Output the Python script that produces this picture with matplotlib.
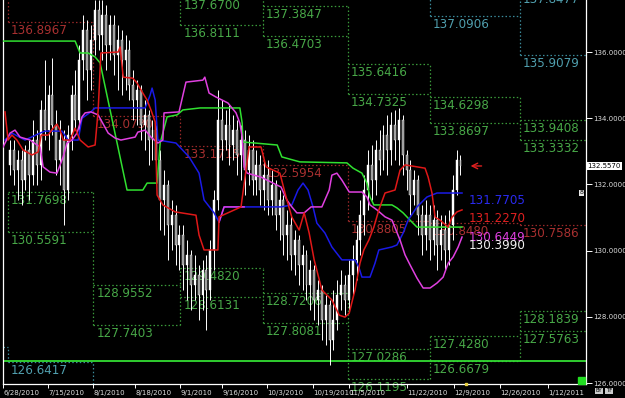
import matplotlib
matplotlib.use('Agg')
import matplotlib.pyplot as plt
import matplotlib.transforms as mtransforms
import numpy as np

# ---------------- data ----------------
opens = [132.59,133.04,132.43,132.74,132.13,133.04,132.28,133.34,132.59,134.25,
         133.64,134.70,133.79,132.74,133.34,131.83,133.49,134.70,133.95,135.76,
         136.66,135.46,136.36,137.27,136.51,137.12,136.21,136.82,135.91,136.36,
         135.76,136.06,135.00,134.55,134.85,133.79,134.10,133.34,133.64,132.74,
         131.53,131.98,130.77,131.07,130.17,130.47,129.57,129.87,128.96,129.26,
         128.66,129.41,128.81,130.02,131.53,133.95,133.34,133.79,133.19,133.64,
         132.89,133.34,132.43,133.04,132.13,132.59,131.83,132.28,131.53,131.98,
         131.07,131.53,130.47,130.77,129.87,130.32,129.57,129.87,128.96,129.41,
         128.51,128.81,127.90,128.36,127.30,127.90,128.66,128.96,128.51,129.26,
         129.72,130.32,131.07,131.83,132.59,132.13,133.04,132.74,133.49,133.04,
         133.79,133.34,133.95,132.89,132.43,131.68,132.13,131.07,130.47,131.07,
         130.32,130.92,130.17,130.62,130.02,130.77,131.83,132.74]
closes = [133.04,132.43,132.74,132.13,133.04,132.28,133.34,132.59,134.25,133.64,
          134.70,133.79,132.74,133.34,131.83,133.49,134.70,133.95,135.76,136.66,
          135.46,136.36,137.27,136.51,137.12,136.21,136.82,135.91,136.36,135.76,
          136.06,135.00,134.55,134.85,133.79,134.10,133.34,133.64,132.74,131.53,
          131.98,130.77,131.07,130.17,130.47,129.57,129.87,128.96,129.26,128.66,
          129.41,128.81,130.02,131.53,133.95,133.34,133.79,133.19,133.64,132.89,
          133.34,132.43,133.04,132.13,132.59,131.83,132.28,131.53,131.98,131.07,
          131.53,130.47,130.77,129.87,130.32,129.57,129.87,128.96,129.41,128.51,
          128.81,127.90,128.36,127.30,127.90,128.66,128.96,128.51,129.26,129.72,
          130.32,131.07,131.83,132.59,132.13,133.04,132.74,133.49,133.04,133.79,
          133.34,133.95,132.89,132.43,131.68,132.13,131.07,130.47,131.07,130.32,
          130.92,130.17,130.62,130.02,130.77,131.83,132.74,132.56]
highs = [133.34,133.34,133.04,133.04,133.19,133.34,133.95,133.64,134.55,135.76,
         135.00,135.82,134.25,133.95,133.64,133.79,135.00,135.46,136.21,137.12,
         136.97,136.82,137.57,137.57,137.57,137.42,137.12,137.12,136.82,136.66,
         136.51,136.36,135.46,135.15,135.00,134.55,134.25,133.95,133.79,133.04,
         132.43,132.13,131.53,131.38,130.77,130.77,130.32,130.02,129.87,129.57,
         129.72,129.87,130.32,131.83,134.85,134.55,134.25,134.40,134.10,133.95,
         133.79,133.64,133.49,133.34,133.04,132.89,132.74,132.74,132.43,132.13,
         131.83,131.68,131.23,131.07,130.62,130.47,130.17,130.02,129.72,129.57,
         129.11,128.96,128.66,128.51,128.81,129.11,129.41,129.26,129.72,130.17,
         130.77,131.53,132.28,133.04,133.19,133.34,133.64,133.79,134.10,134.19,
         134.25,134.31,134.10,133.04,132.74,132.43,132.28,131.38,131.53,131.38,
         131.38,131.23,131.07,131.07,131.23,132.28,133.04,132.89]
lows = [132.28,131.98,131.53,131.38,131.83,131.53,131.98,131.98,132.13,133.34,
        133.04,133.49,132.28,131.98,130.77,131.53,133.04,133.64,133.64,135.15,
        134.55,134.85,135.91,136.06,135.76,135.46,135.76,135.31,134.85,134.70,
        134.85,134.55,133.95,133.79,133.34,133.04,132.59,132.74,132.28,130.62,
        130.47,129.72,130.02,129.57,129.41,128.81,128.51,128.21,128.51,127.90,
        128.21,127.60,128.51,129.41,131.23,132.74,133.04,132.59,132.74,132.28,
        132.13,131.68,131.98,131.68,131.68,131.38,131.23,131.07,131.07,130.62,
        130.32,129.87,129.72,129.41,129.26,128.96,128.81,128.51,128.21,127.90,
        127.75,127.30,127.15,126.54,127.00,127.60,128.21,128.05,128.21,128.66,
        129.11,129.87,130.47,131.23,131.53,131.68,132.28,132.43,132.28,132.59,
        132.74,132.59,132.28,131.83,131.07,131.38,130.47,129.87,130.02,129.72,
        129.87,129.41,129.72,129.41,129.57,130.32,131.68,132.28]

tick_pos = [-1.8, 9.9, 21.6, 32.5, 44.2, 55.1, 66.8, 78.7, 88.1, 103.1, 115.3, 127.3, 139.7]
tick_labels = ['6/28/2010', '7/15/2010', '8/1/2010', '8/18/2010', '9/1/2010', '9/16/2010',
               '10/3/2010', '10/19/2010', '11/5/2010', '11/22/2010', '12/9/2010',
               '12/26/2010', '1/12/2011']
price_ticks = [126, 128, 130, 132, 134, 136]

# indicator lines (vertices: bar position, price)
red_x = [-1.3,-0.5,0.5,1.8,3.4,5.7,7.3,8.1,9.9,11.2,12.2,13.0,13.8,15.6,16.9,18.2,20.3,22.1,22.9,23.6,
         28.1,28.6,29.4,31.9,33.0,34.5,35.6,36.6,37.7,38.2,39.7,42.9,48.3,49.1,50.4,54.0,54.3,60.0,62.1,
         65.2,66.5,70.1,71.7,73.2,75.1,76.4,77.7,79.0,81.0,83.6,85.5,87.0,88.1,89.6,90.9,91.9,93.2,94.5,
         95.8,97.4,100.0,101.3,102.6,107.8,108.6,109.6,110.4,111.7,113.8,114.8,116.1,117.4]
red_y = [134.19,133.34,133.49,133.34,133.04,132.89,132.98,133.49,133.49,133.70,133.82,133.64,133.34,
         133.34,133.70,133.34,133.13,133.19,134.25,135.97,136.00,136.15,135.24,135.21,135.06,134.76,
         134.55,134.25,133.89,131.68,131.38,131.17,131.07,130.47,130.02,130.02,131.02,131.32,133.13,
         133.13,132.53,132.34,131.62,131.01,130.62,131.14,130.53,129.72,128.81,128.51,128.05,127.99,
         128.11,128.81,129.62,130.02,130.32,130.71,131.23,131.74,131.83,132.43,132.59,132.49,132.22,
         131.74,131.01,130.92,130.71,131.01,131.17,131.23]
blue_x = [-1.3,0.5,3.9,7.8,9.1,13.5,15.1,17.7,18.7,21.0,22.1,35.1,36.4,36.9,37.7,38.4,43.1,46.5,49.1,
          50.4,53.0,54.3,55.6,70.4,73.2,74.8,76.1,77.4,78.7,79.7,81.8,83.6,86.2,89.6,90.6,91.4,93.5,
          94.8,95.8,99.2,100.5,102.1,103.4,105.7,108.3,110.9,117.4]
blue_y = [133.34,133.55,133.34,133.55,133.61,133.61,133.34,133.34,134.00,134.19,134.31,134.31,134.70,
          134.91,134.55,133.34,133.25,132.83,132.34,131.53,131.14,130.86,131.32,131.32,131.38,131.83,
          132.04,131.83,131.32,130.83,130.53,130.11,129.72,129.72,129.50,129.20,129.20,129.62,130.02,
          130.11,130.17,130.53,130.92,131.32,131.62,131.74,131.74]
magenta_x = [-1.8,0.0,1.3,2.6,5.2,7.8,8.6,10.4,12.2,13.8,14.8,16.1,17.4,18.7,19.5,21.0,22.9,23.6,25.5,
             27.3,28.8,32.5,33.2,35.1,36.6,38.4,39.7,40.0,43.9,45.7,50.1,50.6,51.7,53.5,56.6,58.7,59.7,
             60.3,60.8,61.6,65.2,67.8,70.4,71.9,73.2,74.5,76.4,78.2,81.0,82.9,83.6,84.9,86.2,88.1,91.4,
             92.7,93.5,95.3,97.4,99.2,101.3,102.6,103.9,105.7,107.3,109.1,110.9,112.5,113.8,115.1,116.4,117.4]
magenta_y = [133.13,133.55,133.64,133.43,133.34,133.13,132.53,132.37,132.34,132.83,133.25,133.34,133.55,
             134.04,134.16,134.19,134.10,133.95,133.55,133.40,133.34,133.43,133.58,133.64,133.43,133.25,
             133.34,134.16,134.19,135.09,135.15,135.24,134.76,134.64,134.46,134.16,133.85,133.43,132.53,
             132.34,132.22,132.07,131.92,131.53,131.32,131.14,131.14,131.32,131.32,131.83,132.28,132.34,
             132.13,131.77,131.77,131.62,131.38,131.23,131.02,130.92,130.32,129.87,129.57,129.17,128.87,
             128.87,129.02,129.20,129.62,129.81,130.11,130.41]
magenta2_x = [54.3, 55.6, 60.8]
magenta2_y = [130.86, 131.32, 131.32]
lime_x = [-1.8,16.9,18.2,20.3,22.1,23.4,30.4,34.5,35.6,38.2,39.0,40.8,43.4,44.9,49.4,59.7,60.3,60.5,
          63.6,69.4,70.6,75.3,87.5,89.1,91.4,92.7,93.5,94.5,99.2,100.5,102.1,103.9,105.7,117.4]
lime_y = [136.33,136.33,135.97,135.97,135.85,135.67,131.83,131.83,132.04,132.04,133.25,134.04,134.10,
          134.25,134.31,134.31,133.85,133.28,133.25,133.19,132.83,132.68,132.65,132.49,132.34,132.04,
          131.62,131.38,131.38,131.29,131.14,130.92,130.71,130.71]

# monthly level boxes (one value per period; None = not shown)
period_edges = [-0.5, 21.6, 44.2, 65.7, 87.8, 109.1, 132.5, 149.6]
green_low_top = [131.7698, 128.9552, 129.4820, 128.7206, 127.0286, 127.4280, 128.1839]
green_low_bot = [130.5591, 127.7403, 128.6131, 127.8081, 126.1195, 126.6679, 127.5763]
green_up_top = [None, None, 137.6700, 137.3847, 135.6416, 134.6298, 133.9408]
green_up_bot = [None, None, 136.8111, 136.4703, 134.7325, 133.8697, 133.3332]
red_level = [136.8967, 134.0730, 133.1715, 132.5954, 130.8805, 130.8480, 130.7586]
red_prev = 138.2
cyan_top = [None, None, None, None, None, 138.4, 137.8477]
cyan_bot = [126.6417, 125.5, None, None, None, 137.0906, 135.9079]
cyan_prev = 127.10
support_level = 126.66

end_labels = [('131.7705', 131.7705, '#2a2af0'), ('131.2270', 131.2270, '#e02020'),
              ('130.6449', 130.6449, '#e040e0'), ('130.3990', 130.3990, '#f0f0f0')]
last_price = 132.5570

# ---------------- style ----------------
BG = 'black'
GREEN_DOT, GREEN_TXT = '#3a9a3a', '#48a848'
RED_DOT, RED_TXT = '#9a2828', '#a83030'
CYAN_DOT, CYAN_TXT = '#3a8a9a', '#509fae'
DOT = (0, (1.2, 1.8))
LABEL_SIZE = 8.6

fig = plt.figure(figsize=(6.25, 3.98), dpi=100, facecolor=BG)
ax = fig.add_axes([3/625, 14/398, 583/625, 384/398], facecolor=BG)
ax.set_xlim(-1.82, 149.6)
ax.set_ylim(125.97, 137.571)

def level_series(vals, color, tcolor, prev=None):
    for k, v in enumerate(vals):
        if v is None:
            continue
        x0, x1 = period_edges[k], period_edges[k + 1]
        ax.plot([x0, x1], [v, v], ls=DOT, color=color, lw=0.9, zorder=1)
        if v < 138:
            ax.annotate(f'{v:.4f}', xy=(x0, v), xytext=(3, -2), textcoords='offset pixels',
                        ha='left', va='top', fontsize=LABEL_SIZE, color=tcolor, zorder=1,
                        annotation_clip=False)
    if prev is not None and vals[0] is not None:
        e = period_edges[0]
        ax.plot([ax.get_xlim()[0], e], [prev, prev], ls=DOT, color=color, lw=0.9, zorder=1)

def edges(series_list, color, prevs=()):
    for k in range(len(period_edges) - 1):
        e = period_edges[k]
        vs = []
        for s in series_list:
            if s[k] is not None:
                vs.append(s[k])
            if k > 0 and s[k - 1] is not None:
                vs.append(s[k - 1])
        if k == 0:
            vs += list(prevs)
        if len(vs) >= 2:
            ax.plot([e, e], [min(vs), max(vs)], ls=DOT, color=color, lw=0.9, zorder=1)

level_series(green_low_top, GREEN_DOT, GREEN_TXT)
level_series(green_low_bot, GREEN_DOT, GREEN_TXT)
edges([green_low_top, green_low_bot], GREEN_DOT)
level_series(green_up_top, GREEN_DOT, GREEN_TXT)
level_series(green_up_bot, GREEN_DOT, GREEN_TXT)
edges([green_up_top, green_up_bot], GREEN_DOT)
level_series(red_level, RED_DOT, RED_TXT, prev=red_prev)
edges([red_level], RED_DOT, prevs=(red_prev,))
level_series(cyan_top, CYAN_DOT, CYAN_TXT)
level_series(cyan_bot, CYAN_DOT, CYAN_TXT, prev=cyan_prev)
edges([cyan_top, cyan_bot], CYAN_DOT, prevs=(cyan_prev,))

ax.axhline(support_level, color='#33dd33', lw=1.3, zorder=2)

# candles
xs = np.arange(len(closes))
for x, o, h, l, c in zip(xs, opens, highs, lows, closes):
    ax.plot([x, x], [l, h], color='white', lw=0.7, zorder=3, solid_capstyle='butt')
    up = c >= o
    ax.bar(x, abs(c - o), bottom=min(o, c), width=0.5,
           color='white' if up else '#8a8a8a', edgecolor='white', linewidth=0.3, zorder=3)

# indicator lines
ax.plot(lime_x, lime_y, color='#30e030', lw=1.1, zorder=4)
ax.plot(blue_x, blue_y, color='#1a1ae6', lw=1.1, zorder=4)
ax.plot(magenta_x, magenta_y, color='#e040e0', lw=1.1, zorder=4)
ax.plot(magenta2_x, magenta2_y, color='#e040e0', lw=1.1, zorder=4)
ax.plot(red_x, red_y, color='#e01818', lw=1.1, zorder=4)

for txt, v, col in end_labels:
    ax.annotate(txt, xy=(119.0, v), xytext=(0, -2), textcoords='offset pixels',
                ha='left', va='top', fontsize=LABEL_SIZE, color=col, zorder=5)

# arrow at last price
ax.annotate('', xy=(len(closes) + 0.9, last_price), xytext=(len(closes) + 5.2, last_price),
            arrowprops=dict(arrowstyle='->', color='#e02020', lw=1.0), zorder=5)

# axes styling
ax.spines['top'].set_visible(False)
for s in ['left', 'right', 'bottom']:
    ax.spines[s].set_color('white')
    ax.spines[s].set_linewidth(0.9)
ax.yaxis.tick_right()
ax.set_yticks(price_ticks)
ax.set_yticklabels([f'{p:.4f}' for p in price_ticks])
ax.tick_params(axis='y', colors='white', labelsize=5, length=4, width=0.7, pad=1.5)
ax.set_xticks(tick_pos)
ax.set_xticklabels(tick_labels)
ax.tick_params(axis='x', colors='white', labelsize=5, length=3, width=0.7, pad=1.2)
for lab in ax.get_xticklabels():
    lab.set_ha('left')
    lab.set_color('#dddddd')
for lab in ax.get_yticklabels():
    lab.set_color('#dddddd')

# last price box
trans = mtransforms.blended_transform_factory(ax.transAxes, ax.transData)
ax.text(1.002, last_price, f'{last_price:.4f}', transform=trans, ha='left', va='center',
        fontsize=5, color='black', zorder=6,
        bbox=dict(facecolor='white', edgecolor='none', pad=0.9))
ax.text(0.996, 131.75, '8', transform=trans, ha='right', va='center', fontsize=4.5, color='black',
        zorder=6, bbox=dict(facecolor='#e8e8e8', edgecolor='none', pad=0.4))
ax.add_patch(plt.Rectangle((0.987, 0.0), 0.012, 0.018, transform=ax.transAxes,
                           color='#22dd22', zorder=6, clip_on=False))
ax.plot([118.5], [125.97], marker='s', ms=2, color='#e8d040', zorder=6, clip_on=False)
fig.text(599/625, 1 - 391/398, 'BY', fontsize=4, color='black', ha='center', va='center',
         bbox=dict(facecolor='#cccccc', edgecolor='none', pad=0.5))
fig.text(609/625, 1 - 391/398, 'TF', fontsize=4, color='black', ha='center', va='center',
         bbox=dict(facecolor='#cccccc', edgecolor='none', pad=0.5))

fig.savefig('out.png', dpi=100, facecolor=BG)
